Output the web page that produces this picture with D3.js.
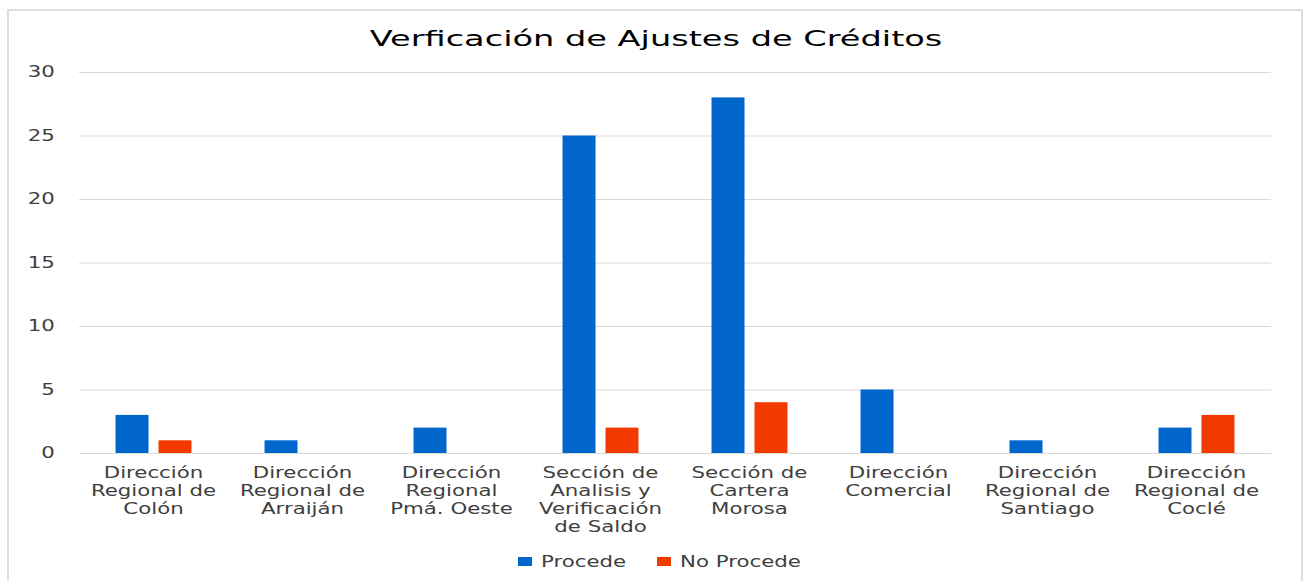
<!DOCTYPE html>
<html>
<head>
<meta charset="utf-8">
<script src="https://cdn.jsdelivr.net/npm/d3@7"></script>
<style>
  body { margin: 0; background: #fff; }
  text { font-family: "DejaVu Sans", Verdana, sans-serif; fill: #404040; }
</style>
</head>
<body>
<svg id="chart" width="1305" height="581"></svg>
<script>
// Chart data
const title = "Verficación de Ajustes de Créditos";
const categories = [
  "Dirección\nRegional de\nColón",
  "Dirección\nRegional de\nArraiján",
  "Dirección\nRegional\nPmá. Oeste",
  "Sección de\nAnalisis y\nVerificación\nde Saldo",
  "Sección de\nCartera\nMorosa",
  "Dirección\nComercial",
  "Dirección\nRegional de\nSantiago",
  "Dirección\nRegional de\nCoclé"
];
const seriesNames = ["Procede", "No Procede"];
const procede = [3, 1, 2, 25, 28, 5, 1, 2];
const noProcede = [1, 0, 0, 2, 4, 0, 0, 3];
const yTicks = [0, 5, 10, 15, 20, 25, 30];
const colors = ["#0066CC", "#F23A00"];

///// SETUP /////
const svg = d3.select("#chart");
const stretch = 1.42; // text in the picture is drawn wide
const plot = {left: 79, right: 1271, top: 72, bottom: 453};

// outer frame
svg.append("rect")
    .attr("x", 8).attr("y", 10)
    .attr("width", 1294).attr("height", 590)
    .attr("fill", "#fff")
    .attr("stroke", "#d4d4d4")
    .attr("stroke-width", 1.5);

// title
svg.append("text")
    .attr("transform", "translate(656,46) scale(1.6,1)")
    .attr("text-anchor", "middle")
    .style("font-size", "21px")
    .style("fill", "#000")
    .text(title);

///// SCALES /////
const x0 = d3.scaleBand()
    .domain(d3.range(categories.length))
    .range([plot.left, plot.right]);
const x1 = d3.scaleBand()
    .domain(seriesNames)
    .range([0, x0.bandwidth()])
    .paddingInner(0.2326)
    .paddingOuter(0.85);
const y = d3.scaleLinear().domain([0, 30]).range([plot.bottom, plot.top]);

// gridlines
svg.append("g")
    .attr("transform", "translate(" + plot.left + ",0)")
    .call(d3.axisLeft(y).tickValues(yTicks).tickSize(-(plot.right - plot.left)).tickFormat(""))
    .call(g => g.select(".domain").remove())
    .selectAll("line")
    .attr("stroke", "#d9d9d9")
    .attr("stroke-width", 1);

// y labels
svg.append("g")
    .attr("transform", "translate(" + plot.left + ",0)")
    .call(d3.axisLeft(y).tickValues(yTicks).tickSize(0).tickPadding(17))
    .call(g => g.select(".domain").remove())
    .selectAll("text")
    .style("font-size", "15px")
    .style("font-family", "DejaVu Sans")
    .style("fill", "#404040")
    .attr("transform", "scale(" + stretch + ",1)");

///// BARS /////
const rows = categories.map((c, i) => ({i: i, values: [procede[i], noProcede[i]]}));
const groups = svg.append("g").selectAll("g")
    .data(rows)
    .enter().append("g")
    .attr("transform", d => "translate(" + x0(d.i) + ",0)");
groups.selectAll("rect")
    .data(d => d.values.map((v, k) => ({key: seriesNames[k], value: v, k: k})))
    .enter().append("rect")
    .attr("x", d => x1(d.key))
    .attr("y", d => y(d.value))
    .attr("width", x1.bandwidth())
    .attr("height", d => y(0) - y(d.value))
    .attr("fill", d => colors[d.k]);

// x axis baseline + category labels
const xAxis = svg.append("g")
    .attr("transform", "translate(0," + plot.bottom + ")")
    .call(d3.axisBottom(x0).tickSize(0).tickFormat(""));
xAxis.select(".domain").attr("stroke", "#d9d9d9");
xAxis.selectAll(".tick").each(function(d) {
    const t = d3.select(this).append("text")
        .attr("transform", "translate(0,25) scale(" + stretch + ",1)")
        .attr("text-anchor", "middle")
        .style("font-size", "15px")
        .style("fill", "#404040");
    categories[d].split("\n").forEach((line, j) => {
        t.append("tspan").attr("x", 0).attr("y", j * 18).text(line);
    });
});

///// LEGEND /////
const legendX = [518, 657];
const legend = svg.append("g").selectAll("g")
    .data(seriesNames)
    .enter().append("g")
    .attr("transform", (d, k) => "translate(" + legendX[k] + ",557)");
legend.append("rect")
    .attr("width", 14).attr("height", 9)
    .attr("fill", (d, k) => colors[k]);
legend.append("text")
    .attr("transform", "translate(23,10) scale(" + stretch + ",1)")
    .style("font-size", "15px")
    .style("fill", "#404040")
    .text(d => d);
</script>
</body>
</html>
